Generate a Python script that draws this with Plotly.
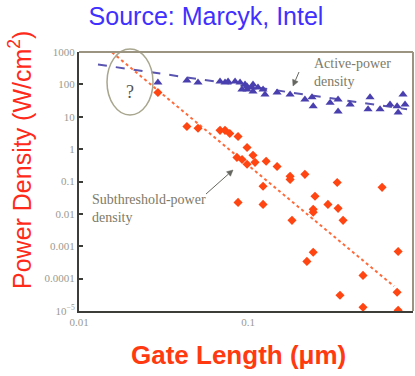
import math
import plotly.graph_objects as go

# ---- data ----
active_x = [0.0293, 0.0435, 0.0506, 0.0683, 0.0731, 0.0762, 0.0838, 0.0897, 0.096, 0.0987,
            0.1056, 0.107, 0.092, 0.0987, 0.107, 0.1146, 0.1227, 0.126, 0.1486, 0.1774,
            0.217, 0.239, 0.243, 0.306, 0.341, 0.341, 0.402, 0.527, 0.513, 0.604,
            0.692, 0.762, 0.773, 0.826, 0.849]
active_y = [115, 132, 115, 123, 115, 123, 123, 115, 100, 69,
            80, 60, 69, 86, 100, 80, 69, 49, 56, 49,
            34, 40, 21, 27, 34, 14.5, 24, 40, 17, 17,
            24, 21, 13.5, 49, 24]

sub_x = [0.0293, 0.0435, 0.0506, 0.0683, 0.0731, 0.078, 0.0873, 0.0987, 0.086, 0.0922,
         0.107, 0.0987, 0.11, 0.128, 0.1486, 0.1774, 0.1774, 0.217, 0.337, 0.621,
         0.1227, 0.249, 0.1227, 0.297, 0.341, 0.243, 0.243, 0.182, 0.365, 0.243,
         0.223, 0.773, 0.479, 0.762, 0.35, 0.479, 0.773, 0.0873]
sub_y = [56, 5.0, 4.4, 3.8, 3.8, 3.05, 2.45, 1.12, 0.555, 0.48,
         0.645, 0.34, 0.39, 0.42, 0.29, 0.144, 0.116, 0.166, 0.093, 0.066,
         0.071, 0.035, 0.0196, 0.0196, 0.0148, 0.0138, 0.0112, 0.0063, 0.0063, 0.00065,
         0.00034, 0.00069, 0.000126, 3.8e-5, 3.05e-5, 1.3e-5, 1.05e-5, 0.0226]

active_trend_x = [0.01295, 0.873]
active_trend_y = [410, 17]
sub_trend_x = [0.01567, 0.731]
sub_trend_y = [980, 5.8e-5]

y_tickvals = [1000, 100, 10, 1, 0.1, 0.01, 0.001, 0.0001, 1e-5]
y_ticktext = ["1000", "100", "10", "1", "0.1", "0.01", "0.001", "0.0001", "10<sup>\u22125</sup>"]
x_tickvals = [0.01, 0.1]
x_ticktext = ["0.01", "0.1"]

# ---- layout geometry ----
W, H = 415, 376
L, R, T, B = 79, 2, 52, 65
PW, PH = W - L - R, H - T - B


def px(x):
    return (x - L) / PW


def py(y):
    return (H - B - y) / PH


fig = go.Figure()
fig.add_trace(go.Scatter(x=active_trend_x, y=active_trend_y, mode="lines",
                         line=dict(color="#5a55b0", width=2, dash="dash"),
                         hoverinfo="skip", showlegend=False))
fig.add_trace(go.Scatter(x=sub_trend_x, y=sub_trend_y, mode="lines",
                         line=dict(color="#ff6a3a", width=2, dash="dot"),
                         hoverinfo="skip", showlegend=False))
fig.add_trace(go.Scatter(x=active_x, y=active_y, mode="markers",
                         marker=dict(symbol="triangle-up", size=8, color="#4a3fae"),
                         showlegend=False))
fig.add_trace(go.Scatter(x=sub_x, y=sub_y, mode="markers",
                         marker=dict(symbol="diamond", size=7, color="#ff4512"),
                         showlegend=False))

serif = "Liberation Serif"
sans = "Liberation Sans"
ann_col = "#7d7a68"
arrow_col = "#666660"

annotations = [
    dict(x=px(20), y=py(160), xref="paper", yref="paper", textangle=-90,
         text="Power Density (W/cm<sup>2</sup>)", showarrow=False,
         font=dict(family=sans, size=25, color="#ff2a1a"), xanchor="center", yanchor="middle"),
    dict(x=px(238), y=py(355), xref="paper", yref="paper",
         text="<b>Gate Length (\u03bcm)</b>", showarrow=False,
         font=dict(family=sans, size=26, color="#ff3a10"), xanchor="center", yanchor="middle"),
    dict(x=px(130), y=py(92), xref="paper", yref="paper", text="?", showarrow=False,
         font=dict(family=serif, size=18, color="#555550"), xanchor="center", yanchor="middle"),
    dict(x=px(90), y=py(208), xref="paper", yref="paper", text="Subthreshold-power<br>density",
         showarrow=False, align="left", font=dict(family=serif, size=14, color=ann_col),
         xanchor="left", yanchor="middle"),
    dict(x=px(312), y=py(73), xref="paper", yref="paper", text="Active-power<br>density",
         showarrow=False, align="left", font=dict(family=serif, size=14, color=ann_col),
         xanchor="left", yanchor="middle"),
]


def arrow(x_tail, y_tail, x_head, y_head):
    dx, dy = x_head - x_tail, y_head - y_tail
    n = math.hypot(dx, dy)
    ux, uy = dx / n, dy / n
    hl, hw = 6, 3
    bx, by = x_head - ux * hl, y_head - uy * hl
    p1 = (bx - uy * hw, by + ux * hw)
    p2 = (bx + uy * hw, by - ux * hw)
    return [
        dict(type="line", xref="paper", yref="paper", x0=px(x_tail), y0=py(y_tail),
             x1=px(bx), y1=py(by), line=dict(color=arrow_col, width=1)),
        dict(type="path", xref="paper", yref="paper",
             path=f"M {px(x_head)} {py(y_head)} L {px(p1[0])} {py(p1[1])} "
                  f"L {px(p2[0])} {py(p2[1])} Z",
             fillcolor=arrow_col, line=dict(color=arrow_col, width=0.5)),
    ]


shapes = [
    dict(type="circle", xref="paper", yref="paper", x0=px(107), x1=px(153),
         y0=py(115), y1=py(49), line=dict(color="#a8a68e", width=1.5)),
    dict(type="line", xref="paper", yref="paper", x0=0, x1=1, y0=1, y1=1,
         line=dict(color="#9a9480", width=2)),
    dict(type="line", xref="paper", yref="paper", x0=1, x1=1, y0=0, y1=1,
         line=dict(color="#9a9480", width=2)),
]
shapes += arrow(206, 194, 233, 170)
shapes += arrow(299, 72, 293, 86)

fig.update_layout(
    width=W, height=H,
    margin=dict(l=L, r=R, t=T, b=B),
    paper_bgcolor="white", plot_bgcolor="white",
    title=dict(text="Source: Marcyk, Intel", x=206 / W, y=1 - 16 / H,
               xanchor="center", yanchor="middle",
               font=dict(family=sans, size=25, color="#3f30ff")),
    xaxis=dict(type="log", range=[-2, -0.024], tickvals=x_tickvals, ticktext=x_ticktext,
               showgrid=False, zeroline=False, showline=True, linecolor="#3c3c38",
               linewidth=2, ticks="", tickfont=dict(family=serif, size=11, color="#9a9a92")),
    yaxis=dict(type="log", range=[-5, 3], tickvals=y_tickvals, ticktext=y_ticktext,
               showgrid=False, zeroline=False, showline=True, linecolor="#3c3c38",
               linewidth=2, ticks="inside", ticklen=4, tickwidth=2, tickcolor="#3c3c38",
               tickfont=dict(family=serif, size=11, color="#9a9a92")),
    annotations=annotations, shapes=shapes,
)

fig.write_html("out.html", config={"displayModeBar": False},
               post_script="document.body.style.margin='0px';")
